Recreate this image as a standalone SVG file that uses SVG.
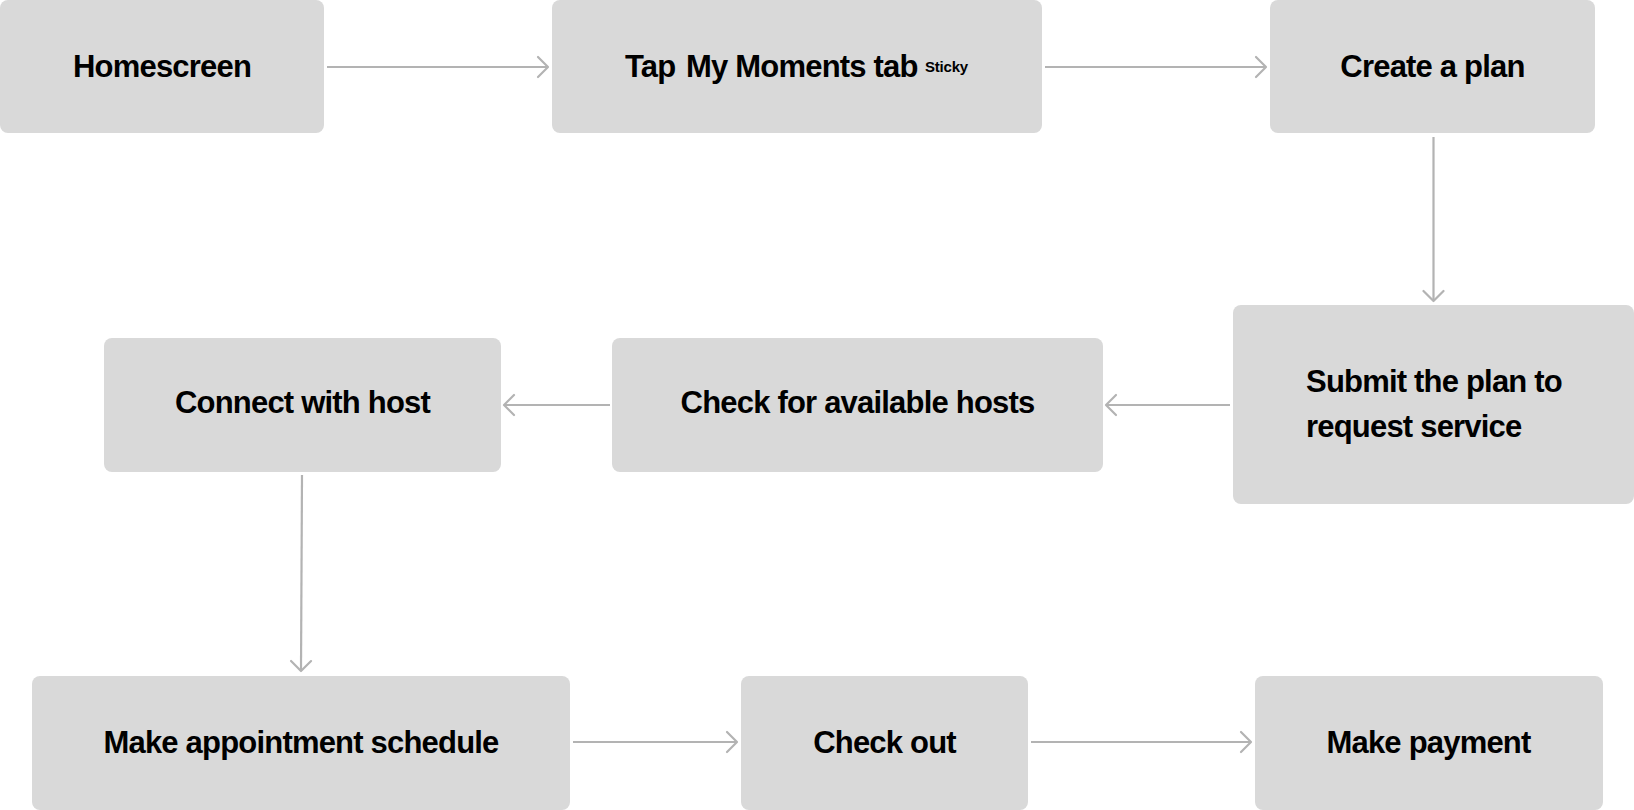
<svg xmlns="http://www.w3.org/2000/svg" width="1634" height="810" viewBox="0 0 1634 810">
<style>
.box{fill:#d9d9d9}
.t{font-family:"Liberation Sans",Arial,sans-serif;font-weight:bold;font-size:31px;fill:#000;letter-spacing:-0.8px}
.c{text-anchor:middle}
.s{font-family:"Liberation Sans",Arial,sans-serif;font-weight:bold;font-size:15px;fill:#000;letter-spacing:-0.2px}
.e{stroke:#b3b3b3;stroke-width:2.2;fill:none;marker-end:url(#ah)}
</style>
<defs>
<marker id="ah" markerUnits="userSpaceOnUse" markerWidth="14" markerHeight="24" viewBox="0 0 14 24" refX="12" refY="12" orient="auto">
<path d="M2,2 L12,12 L2,22" fill="none" stroke="#b3b3b3" stroke-width="2.2" stroke-linecap="round" stroke-linejoin="round"/>
</marker>
</defs>
<rect width="1634" height="810" fill="#fff"/>
<g id="connectors">
<line class="e" x1="327" y1="67" x2="548" y2="67"/>
<line class="e" x1="1045" y1="67" x2="1266" y2="67"/>
<line class="e" x1="1433.5" y1="137" x2="1433.5" y2="301"/>
<line class="e" x1="1230" y1="405" x2="1106" y2="405"/>
<line class="e" x1="610" y1="405" x2="504" y2="405"/>
<line class="e" x1="302" y1="475" x2="301" y2="671"/>
<line class="e" x1="573" y1="742" x2="737" y2="742"/>
<line class="e" x1="1031" y1="742" x2="1251" y2="742"/>
</g>
<g id="homescreen">
<rect class="box" x="0" y="0" width="324" height="133" rx="8"/>
<text class="t c" x="162" y="77">Homescreen</text>
</g>
<g id="tap-my-moments">
<rect class="box" x="552" y="0" width="490" height="133" rx="8"/>
<text class="t" x="625" y="77">Tap</text>
<text class="t" x="686" y="77">My Moments tab</text>
<text class="s" x="925" y="72">Sticky</text>
</g>
<g id="create-plan">
<rect class="box" x="1270" y="0" width="325" height="133" rx="8"/>
<text class="t c" x="1432.5" y="77">Create a plan</text>
</g>
<g id="submit-plan">
<rect class="box" x="1233" y="305" width="401" height="199" rx="8"/>
<text class="t" x="1306" y="392">Submit the plan to</text>
<text class="t" x="1306" y="437">request service</text>
</g>
<g id="check-hosts">
<rect class="box" x="612" y="338" width="491" height="134" rx="8"/>
<text class="t c" x="857.5" y="413">Check for available hosts</text>
</g>
<g id="connect-host">
<rect class="box" x="104" y="338" width="397" height="134" rx="8"/>
<text class="t c" x="302.5" y="413">Connect with host</text>
</g>
<g id="make-appointment">
<rect class="box" x="32" y="676" width="538" height="134" rx="8"/>
<text class="t c" x="301" y="753">Make appointment schedule</text>
</g>
<g id="check-out">
<rect class="box" x="741" y="676" width="287" height="134" rx="8"/>
<text class="t c" x="884.5" y="753">Check out</text>
</g>
<g id="make-payment">
<rect class="box" x="1255" y="676" width="348" height="134" rx="8"/>
<text class="t c" x="1428.5" y="753">Make payment</text>
</g>
</svg>
